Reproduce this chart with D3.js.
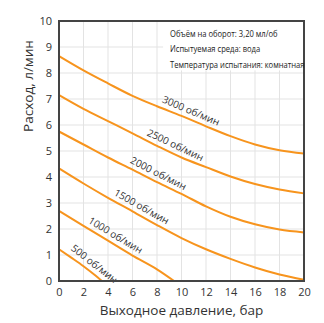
<!DOCTYPE html>
<html>
<head>
<meta charset="utf-8">
<script src="https://cdn.jsdelivr.net/npm/d3@7"></script>
<style>
  body { margin: 0; background: #fff; }
  svg { display: block; font-family: "Open Sans", sans-serif; }
</style>
</head>
<body>
<div id="chart"></div>
<script>
// Flow vs outlet pressure, one curve per speed
const width = 324, height = 323,
    margin = ({ top: 21, right: 20, bottom: 42, left: 59 });

const speeds = ["500 об/мин", "1000 об/мин", "1500 об/мин", "2000 об/мин", "2500 об/мин", "3000 об/мин"];

// pressure (бар) / flow (л/мин) points
const p500 = [0, 1, 2, 3, 3.5];
const q500 = [1.22, 0.9, 0.57, 0.2, 0];
const p1000 = [0, 2, 4, 6, 8, 9.4];
const q1000 = [2.7, 2.12, 1.55, 0.98, 0.45, 0];
const pFull = [0, 2, 4, 6, 8, 10, 12, 14, 16, 18, 20];
const q1500 = [4.33, 3.75, 3.2, 2.68, 2.15, 1.65, 1.22, 0.85, 0.52, 0.25, 0.05];
const q2000 = [5.75, 5.25, 4.75, 4.28, 3.8, 3.35, 2.87, 2.47, 2.18, 1.98, 1.87];
const q2500 = [7.15, 6.62, 6.15, 5.68, 5.2, 4.75, 4.38, 4.02, 3.73, 3.52, 3.37];
const q3000 = [8.65, 8.1, 7.6, 7.12, 6.72, 6.35, 5.95, 5.57, 5.25, 5.03, 4.9];

// where along each curve the label sits (бар)
const labelAt = [2.45, 4.25, 6.4, 7.8, 9.2, 10.5];

const notes = ["Объём на оборот: 3,20 мл/об", "Испытуемая среда: вода", "Температура испытания: комнатная"];
const xTicks = d3.range(0, 21, 2);
const yTicks = d3.range(0, 11, 1);

const series = [
  d3.zip(p500, q500), d3.zip(p1000, q1000), d3.zip(pFull, q1500),
  d3.zip(pFull, q2000), d3.zip(pFull, q2500), d3.zip(pFull, q3000)
];

const svg = d3.select("#chart").append("svg")
    .attr("width", width).attr("height", height)
    .attr("viewBox", [0, 0, width, height]);

const x = d3.scaleLinear().domain([0, 20]).range([margin.left, width - margin.right]);
const y = d3.scaleLinear().domain([0, 10]).range([height - margin.bottom, margin.top]);

// grid
svg.append("g").selectAll("line.v").data(xTicks).join("line")
    .attr("x1", d => x(d)).attr("x2", d => x(d))
    .attr("y1", y(0)).attr("y2", y(10))
    .attr("stroke", "#e3e3e3").attr("stroke-width", 1);
svg.append("g").selectAll("line.h").data(yTicks).join("line")
    .attr("x1", x(0)).attr("x2", x(20))
    .attr("y1", d => y(d)).attr("y2", d => y(d))
    .attr("stroke", "#e3e3e3").attr("stroke-width", 1);

// white box behind the notes
svg.append("rect")
    .attr("x", x(8.5)).attr("y", y(10))
    .attr("width", x(20) - x(8.5)).attr("height", y(8.1) - y(10))
    .attr("fill", "#fff");

const line = d3.line()
    .x(d => x(d[0]))
    .y(d => y(d[1]))
    .curve(d3.curveMonotoneX);

svg.append("g").selectAll("path").data(series).join("path")
    .attr("d", line)
    .attr("fill", "none")
    .attr("stroke", "#f7941d")
    .attr("stroke-width", 2);

// curve labels, rotated along the curve
series.forEach((s, i) => {
  const px = labelAt[i];
  let k = 1;
  while (k < s.length - 1 && s[k][0] < px) k++;
  const a = s[k - 1], b = s[k];
  const t = (px - a[0]) / (b[0] - a[0]);
  const qy = a[1] + t * (b[1] - a[1]);
  const ang = Math.atan2(y(b[1]) - y(a[1]), x(b[0]) - x(a[0])) * 180 / Math.PI;
  svg.append("text")
    .attr("transform", `translate(${x(px)},${y(qy)}) rotate(${ang})`)
    .attr("dy", "-5")
    .attr("text-anchor", "middle")
    .attr("font-size", 10)
    .attr("fill", "#333")
    .text(speeds[i]);
});

// frame
svg.append("rect")
    .attr("x", x(0)).attr("y", y(10))
    .attr("width", x(20) - x(0)).attr("height", y(0) - y(10))
    .attr("fill", "none").attr("stroke", "#444").attr("stroke-width", 2);

// axes
svg.append("g")
    .attr("transform", `translate(0,${y(0)})`)
    .call(d3.axisBottom(x).tickValues(xTicks).tickSize(0).tickPadding(7))
    .call(g => g.select(".domain").remove())
    .call(g => g.selectAll("text").attr("font-size", 11).attr("fill", "#333").attr("font-family", "Open Sans"));

svg.append("g")
    .attr("transform", `translate(${x(0)},0)`)
    .call(d3.axisLeft(y).tickValues(yTicks).tickSize(0).tickPadding(7))
    .call(g => g.select(".domain").remove())
    .call(g => g.selectAll("text").attr("font-size", 11).attr("fill", "#333").attr("font-family", "Open Sans"));

// notes (condensed look)
svg.append("g")
    .attr("transform", "translate(170,0) scale(0.8,1)")
  .selectAll("text").data(notes).join("text")
    .attr("x", 0)
    .attr("y", (d, i) => 37 + i * 15.5)
    .attr("font-size", 9.5)
    .attr("fill", "#222")
    .text(d => d);

// axis titles
svg.append("text")
    .attr("x", x(10)).attr("y", 315)
    .attr("text-anchor", "middle")
    .attr("font-size", 13.5)
    .attr("fill", "#333")
    .text("Выходное давление, бар");

svg.append("text")
    .attr("transform", `translate(33,${y(7.5)}) rotate(-90)`)
    .attr("text-anchor", "middle")
    .attr("font-size", 13.5)
    .attr("fill", "#333")
    .text("Расход, л/мин");
</script>
</body>
</html>
